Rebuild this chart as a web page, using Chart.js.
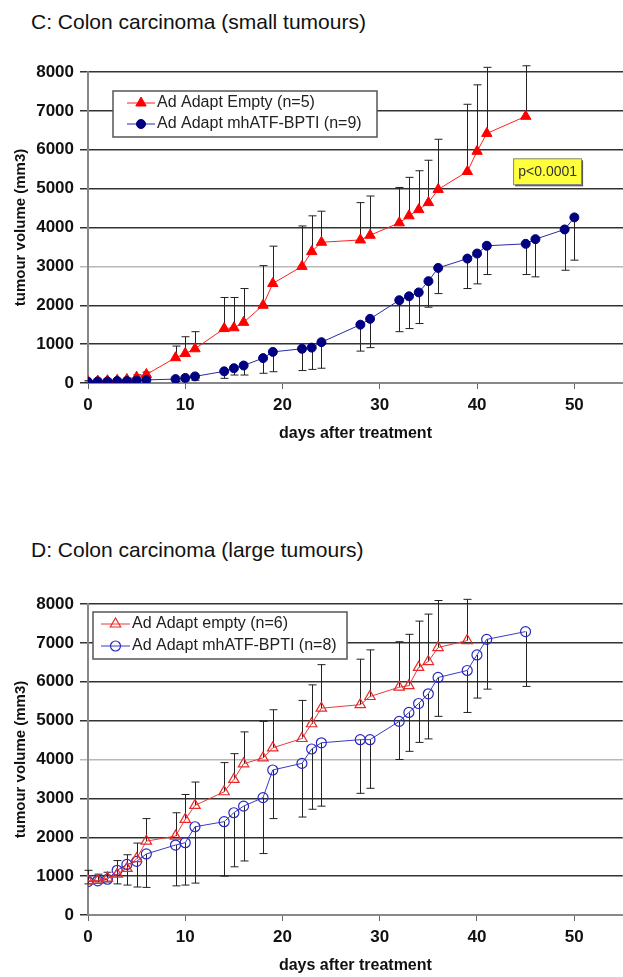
<!DOCTYPE html>
<html>
<head>
<meta charset="utf-8">
<script src="https://cdn.jsdelivr.net/npm/chart.js@4.4.0/dist/chart.umd.min.js"></script>
<style>
  html, body { margin: 0; padding: 0; overflow: hidden; background: #fff; }
  body { width: 623px; height: 977px; position: relative; font-family: "Liberation Sans", Arial, sans-serif; }
  .title { position: absolute; left: 31px; font-size: 21px; color: #111; white-space: nowrap; }
  canvas { position: absolute; left: 0; }
</style>
</head>
<body>
<div class="title" style="top:10px">C: Colon carcinoma (small tumours)</div>
<canvas id="chartC" width="630" height="393" style="top:50px"></canvas>
<div class="title" style="top:538px">D: Colon carcinoma (large tumours)</div>
<canvas id="chartD" width="630" height="393" style="top:582px"></canvas>

<script>
// axis ticks
const xTicks = [0, 10, 20, 30, 40, 50];
const yTicks = [0, 1000, 2000, 3000, 4000, 5000, 6000, 7000, 8000];

// C: small tumours
const daysC_empty = [0, 1, 2, 3, 4, 5, 6, 9, 10, 11, 14, 15, 16, 18, 19, 22, 23, 24, 28, 29, 32, 33, 34, 35, 36, 39, 40, 41, 45];
const meanC_empty = [40, 50, 60, 70, 90, 150, 220, 650, 760, 880, 1400, 1420, 1560, 2000, 2560, 3000, 3380, 3620, 3680, 3800, 4120, 4300, 4460, 4640, 4980, 5440, 5960, 6420, 6860];
const errC_empty = [20, 20, 20, 30, 40, 60, 60, 300, 430, 440, 800, 780, 870, 1020, 960, 1040, 920, 800, 960, 1010, 910, 990, 1000, 1090, 1290, 1730, 1710, 1700, 1300];

const daysC_bpti = [0, 1, 2, 3, 4, 5, 6, 9, 10, 11, 14, 15, 16, 18, 19, 22, 23, 24, 28, 29, 32, 33, 34, 35, 36, 39, 40, 41, 45, 46, 49, 50];
const meanC_bpti = [30, 40, 40, 50, 50, 60, 80, 100, 130, 170, 300, 380, 450, 640, 800, 880, 910, 1050, 1500, 1650, 2130, 2230, 2330, 2620, 2960, 3200, 3330, 3530, 3580, 3700, 3950, 4260];
const errC_bpti = [10, 10, 10, 10, 10, 10, 10, 60, 80, 100, 180, 175, 245, 390, 510, 560, 560, 670, 680, 740, 810, 830, 800, 670, 660, 770, 780, 740, 790, 970, 1050, 1100];

// D: large tumours
const daysD_empty = [0, 1, 2, 3, 4, 5, 6, 9, 10, 11, 14, 15, 16, 18, 19, 22, 23, 24, 28, 29, 32, 33, 34, 35, 36, 39];
const meanD_empty = [880, 890, 950, 1050, 1200, 1450, 1900, 2030, 2460, 2820, 3170, 3490, 3890, 4040, 4300, 4540, 4920, 5320, 5410, 5620, 5860, 5900, 6370, 6520, 6880, 7060];
const errD_empty = [270, 160, 150, 350, 350, 400, 580, 600, 640, 600, 750, 660, 820, 940, 980, 980, 1000, 1120, 1170, 1200, 1170, 1320, 1190, 1220, 1210, 1060];

const daysD_bpti = [0, 1, 2, 3, 4, 5, 6, 9, 10, 11, 14, 15, 16, 18, 19, 22, 23, 24, 28, 29, 32, 33, 34, 35, 36, 39, 40, 41, 45];
const meanD_bpti = [860, 880, 920, 1150, 1300, 1380, 1570, 1800, 1860, 2270, 2400, 2630, 2800, 3020, 3730, 3900, 4270, 4430, 4510, 4510, 4980, 5210, 5440, 5690, 6110, 6290, 6690, 7090, 7290];
const errD_bpti = [60, 30, 70, 350, 530, 660, 860, 1050, 1090, 1450, 1400, 1390, 1410, 1440, 1250, 1380, 1550, 1630, 1380, 1250, 980, 1000, 1000, 1160, 1000, 1080, 1110, 1280, 1410];

const FONT = '"Liberation Sans", Arial, sans-serif';

function toPoints(days, means) {
  return days.map((d, i) => ({ x: d, y: means[i] }));
}

// error bars: red ones go up, blue ones go down
const errorBars = {
  id: 'errorBars',
  beforeDatasetsDraw(chart) {
    const { ctx } = chart;
    const xs = chart.scales.x, ys = chart.scales.y;
    ctx.save();
    ctx.strokeStyle = '#222';
    ctx.lineWidth = 1;
    chart.data.datasets.forEach(ds => {
      ds.data.forEach((p, i) => {
        const e = ds.errors[i];
        const px = Math.round(xs.getPixelForValue(p.x)) + 0.5;
        const y0 = ys.getPixelForValue(p.y);
        const y1 = ys.getPixelForValue(p.y + ds.errorDir * e);
        ctx.beginPath();
        ctx.moveTo(px, y0);
        ctx.lineTo(px, y1);
        ctx.moveTo(px - 4, y1);
        ctx.lineTo(px + 4, y1);
        ctx.stroke();
      });
    });
    ctx.restore();
  }
};

const boxLegend = {
  id: 'boxLegend',
  afterDraw(chart, args, o) {
    const { ctx, chartArea } = chart;
    const x = chartArea.left + o.dx, y = chartArea.top + o.dy;
    ctx.save();
    ctx.fillStyle = '#fff';
    ctx.fillRect(x, y, o.w, o.h);
    ctx.strokeStyle = '#555';
    ctx.lineWidth = 1.5;
    ctx.strokeRect(x, y, o.w, o.h);
    chart.data.datasets.forEach((ds, i) => {
      const cy = y + o.rows[i];
      const lx = x + o.lineStart;
      ctx.strokeStyle = ds.borderColor;
      ctx.lineWidth = 1;
      ctx.beginPath();
      ctx.moveTo(lx, cy);
      ctx.lineTo(lx + o.lineLen, cy);
      ctx.stroke();
      ctx.fillStyle = ds.pointBackgroundColor;
      ctx.strokeStyle = ds.pointBorderColor;
      ctx.lineWidth = ds.pointBorderWidth;
      Chart.helpers.drawPoint(ctx, { pointStyle: ds.pointStyle, radius: ds.pointRadius, borderWidth: ds.pointBorderWidth }, lx + o.lineLen / 2, cy);
      ctx.fillStyle = '#222';
      ctx.font = '16px ' + FONT;
      ctx.textBaseline = 'middle';
      ctx.fillText(ds.label, lx + o.lineLen + 2, cy);
    });
    ctx.restore();
  }
};

const pBox = {
  id: 'pBox',
  afterDraw(chart, args, o) {
    if (!o.text) return;
    const { ctx } = chart;
    const x = chart.scales.x.getPixelForValue(o.day);
    const y = chart.scales.y.getPixelForValue(o.value);
    ctx.save();
    ctx.fillStyle = '#555';
    ctx.fillRect(x + 2, y + 2, o.w, o.h);
    ctx.fillStyle = '#ffff3c';
    ctx.fillRect(x, y, o.w, o.h);
    ctx.strokeStyle = '#888';
    ctx.lineWidth = 1;
    ctx.strokeRect(x + 0.5, y + 0.5, o.w, o.h);
    ctx.fillStyle = '#333';
    ctx.font = '14px ' + FONT;
    ctx.textAlign = 'right';
    ctx.textBaseline = 'middle';
    ctx.fillText(o.text, x + o.w - 4, y + o.h / 2 + 1);
    ctx.restore();
  }
};

function makeChart(id, datasets, lightGrid, legendOpts, pOpts) {
  return new Chart(document.getElementById(id), {
    type: 'line',
    data: { datasets },
    plugins: [errorBars, boxLegend, pBox],
    options: {
      responsive: false,
      animation: false,
      layout: { padding: { top: 22, right: 0, bottom: 0, left: 0 } },
      plugins: {
        legend: { display: false },
        tooltip: { enabled: false },
        boxLegend: legendOpts,
        pBox: pOpts
      },
      scales: {
        x: {
          type: 'linear',
          min: 0,
          max: 55,
          afterBuildTicks: s => { s.ticks = xTicks.map(v => ({ value: v })); },
          afterFit: s => { s.height = 60; },
          grid: { drawOnChartArea: false, drawTicks: true, tickLength: 6, color: '#666' },
          border: { color: '#888', width: 2 },
          ticks: { padding: 6, color: '#111', callback: v => String(v), font: { family: FONT, size: 17, weight: 'bold' } },
          title: { display: true, text: 'days after treatment', color: '#111', padding: 0, font: { family: FONT, size: 16, weight: 'bold' } }
        },
        y: {
          min: 0,
          max: 8000,
          afterBuildTicks: s => { s.ticks = yTicks.map(v => ({ value: v })); },
          afterFit: s => { s.width = 88; },
          grid: {
            color: c => (c.tick && c.tick.value === lightGrid) ? '#b8b8b8' : '#333',
            lineWidth: 1.5,
            tickLength: 8
          },
          border: { color: '#888', width: 2 },
          ticks: { padding: 6, color: '#111', callback: v => String(v), font: { family: FONT, size: 17, weight: 'bold' } },
          title: { display: true, text: 'tumour volume (mm3)', color: '#111', padding: { top: 12, bottom: 0 }, font: { family: FONT, size: 15, weight: 'bold' } }
        }
      }
    }
  });
}

makeChart('chartC', [
  {
    label: 'Ad Adapt Empty (n=5)',
    data: toPoints(daysC_empty, meanC_empty),
    errors: errC_empty, errorDir: 1, order: 1,
    borderColor: '#ff2020', borderWidth: 1,
    pointStyle: 'triangle', pointRadius: 6,
    pointBackgroundColor: '#ff0000', pointBorderColor: '#ff0000', pointBorderWidth: 1
  },
  {
    label: 'Ad Adapt mhATF-BPTI (n=9)',
    data: toPoints(daysC_bpti, meanC_bpti),
    errors: errC_bpti, errorDir: -1, order: 0,
    borderColor: '#2a2aa8', borderWidth: 1,
    pointStyle: 'circle', pointRadius: 4.5,
    pointBackgroundColor: '#000080', pointBorderColor: '#000080', pointBorderWidth: 1
  }
], 3000,
{ dx: 25, dy: 19, w: 264, h: 46, rows: [12, 33], lineStart: 14, lineLen: 28 },
{ text: 'p<0.0001', day: 43.7, value: 5780, w: 68, h: 26 });

makeChart('chartD', [
  {
    label: 'Ad Adapt empty (n=6)',
    data: toPoints(daysD_empty, meanD_empty),
    errors: errD_empty, errorDir: 1,
    borderColor: '#e83a3a', borderWidth: 1,
    pointStyle: 'triangle', pointRadius: 6,
    pointBackgroundColor: 'rgba(0,0,0,0)', pointBorderColor: '#e82a2a', pointBorderWidth: 1.2
  },
  {
    label: 'Ad Adapt mhATF-BPTI (n=8)',
    data: toPoints(daysD_bpti, meanD_bpti),
    errors: errD_bpti, errorDir: -1,
    borderColor: '#3a3ac8', borderWidth: 1,
    pointStyle: 'circle', pointRadius: 5,
    pointBackgroundColor: 'rgba(0,0,0,0)', pointBorderColor: '#2a2ac0', pointBorderWidth: 1.2
  }
], 4000,
{ dx: 5, dy: 8, w: 254, h: 47, rows: [12, 34], lineStart: 8, lineLen: 29 },
{});
</script>
</body>
</html>
